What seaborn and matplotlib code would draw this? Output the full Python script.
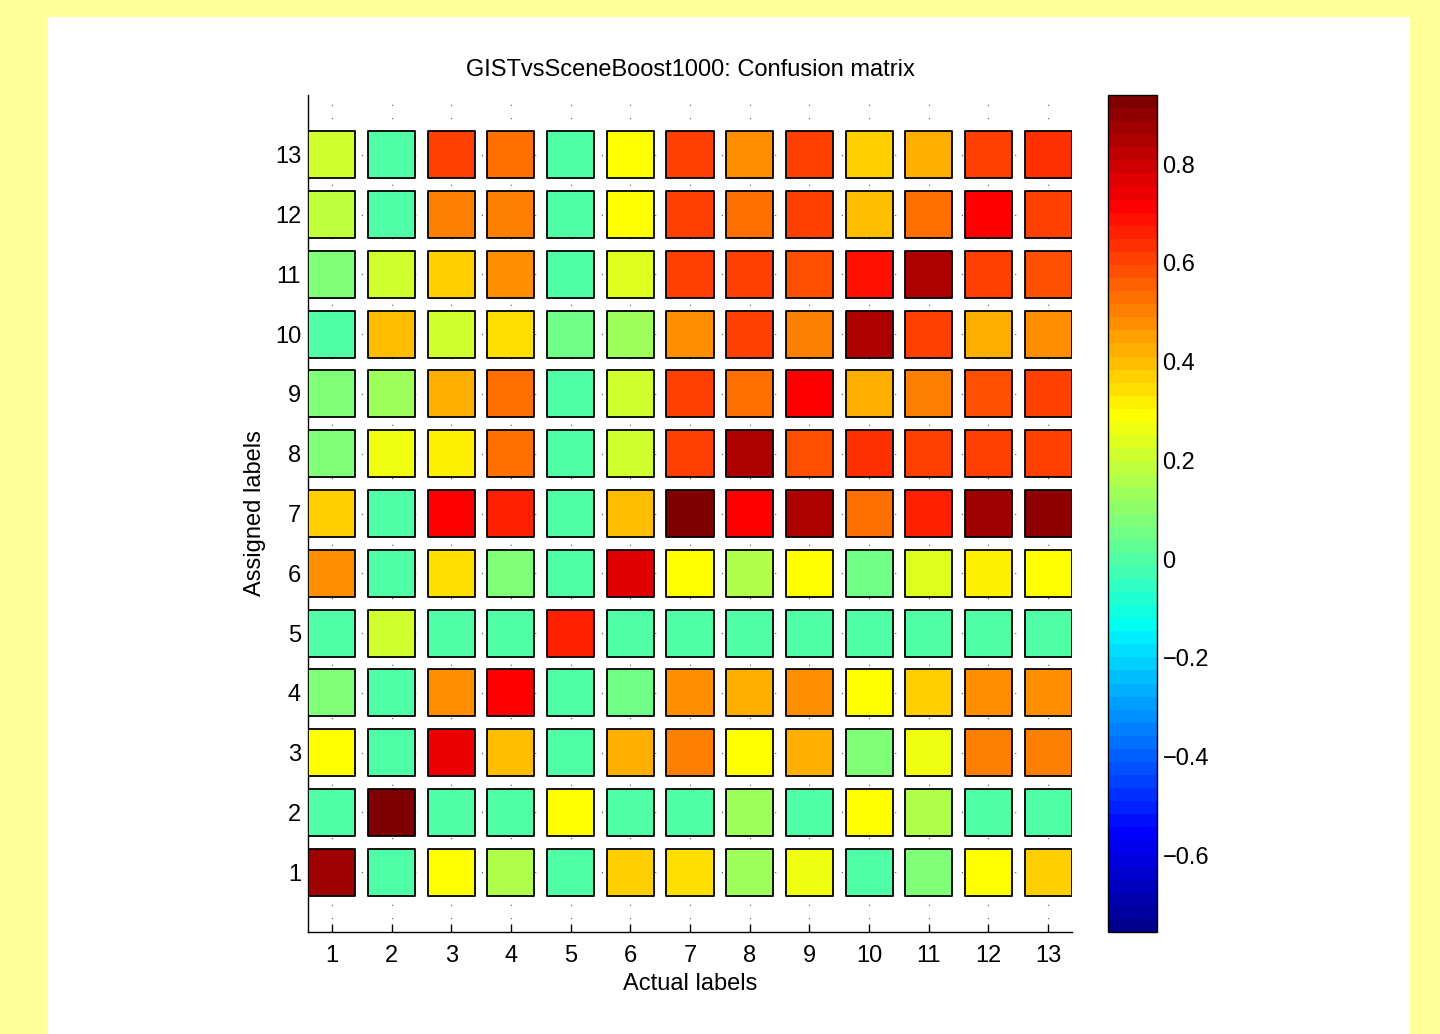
import numpy as np
import pandas as pd
import seaborn as sns
import matplotlib
matplotlib.use("Agg")
import matplotlib.pyplot as plt
from matplotlib.colors import LinearSegmentedColormap, Normalize
from matplotlib.patches import Rectangle
from matplotlib.cm import ScalarMappable

# ---- data (rows = assigned label, columns = actual label 1..13) ----
actual_labels = list(range(1, 14))
assigned_1 = [0.87, 0.005, 0.28, 0.15, 0.005, 0.38, 0.34, 0.13, 0.26, 0.005, 0.07, 0.28, 0.36]
assigned_2 = [0.005, 0.94, 0.005, 0.005, 0.30, 0.005, 0.005, 0.13, 0.005, 0.30, 0.15, 0.005, 0.005]
assigned_3 = [0.30, 0.005, 0.75, 0.41, 0.005, 0.42, 0.50, 0.28, 0.42, 0.09, 0.26, 0.49, 0.50]
assigned_4 = [0.07, 0.005, 0.47, 0.72, 0.005, 0.04, 0.47, 0.42, 0.47, 0.30, 0.38, 0.47, 0.47]
assigned_5 = [0.005, 0.20, 0.005, 0.005, 0.65, 0.005, 0.005, 0.005, 0.005, 0.005, 0.005, 0.005, 0.005]
assigned_6 = [0.465, 0.005, 0.34, 0.07, 0.005, 0.78, 0.30, 0.15, 0.28, 0.04, 0.23, 0.31, 0.30]
assigned_7 = [0.38, 0.005, 0.72, 0.67, 0.005, 0.41, 0.94, 0.72, 0.835, 0.52, 0.65, 0.88, 0.89]
assigned_8 = [0.07, 0.26, 0.33, 0.52, 0.005, 0.20, 0.61, 0.855, 0.57, 0.64, 0.60, 0.60, 0.61]
assigned_9 = [0.09, 0.13, 0.43, 0.54, 0.005, 0.20, 0.61, 0.52, 0.72, 0.43, 0.49, 0.57, 0.60]
assigned_10 = [0.0, 0.41, 0.20, 0.355, 0.04, 0.13, 0.47, 0.62, 0.50, 0.855, 0.61, 0.43, 0.47]
assigned_11 = [0.07, 0.20, 0.37, 0.47, 0.005, 0.23, 0.60, 0.60, 0.57, 0.69, 0.835, 0.60, 0.57]
assigned_12 = [0.18, 0.005, 0.50, 0.50, 0.005, 0.28, 0.61, 0.54, 0.60, 0.41, 0.54, 0.72, 0.61]
assigned_13 = [0.21, 0.005, 0.60, 0.52, 0.005, 0.30, 0.61, 0.465, 0.60, 0.37, 0.43, 0.60, 0.64]
assigned_rows = [assigned_1, assigned_2, assigned_3, assigned_4, assigned_5, assigned_6,
                 assigned_7, assigned_8, assigned_9, assigned_10, assigned_11,
                 assigned_12, assigned_13]
color_min, color_max = -0.755, 0.94
colorbar_ticks = [-0.6, -0.4, -0.2, 0, 0.2, 0.4, 0.6, 0.8]
colorbar_ticklabels = ["\u22120.6", "\u22120.4", "\u22120.2", "0", "0.2", "0.4", "0.6", "0.8"]

records = []
for a_idx, row in enumerate(assigned_rows, start=1):
    for act, val in zip(actual_labels, row):
        records.append({"actual": act, "assigned": a_idx, "value": val})
df = pd.DataFrame(records)

# ---- MATLAB jet(64) colormap ----
jet_data = {
    "red":   [(0, 0, 0), (0.365, 0, 0), (0.619, 1, 1), (0.873, 1, 1), (1, 0.5, 0.5)],
    "green": [(0, 0, 0), (0.111, 0, 0), (0.365, 1, 1), (0.619, 1, 1), (0.873, 0, 0), (1, 0, 0)],
    "blue":  [(0, 0.5625, 0.5625), (0.111, 1, 1), (0.349, 1, 1), (0.619, 0, 0), (1, 0, 0)],
}
cmap = LinearSegmentedColormap("mjet", jet_data, N=64)
norm = Normalize(vmin=color_min, vmax=color_max)

sns.set_theme(style="white")
plt.rcParams["font.family"] = ["Liberation Sans", "DejaVu Sans"]

FS = 17

fig = plt.figure(figsize=(14.4, 10.34), dpi=100, facecolor="#FFFF99")
fig.add_artist(Rectangle((48 / 1440, 0), (1410 - 48) / 1440, 1 - 17 / 1034,
                         transform=fig.transFigure, facecolor="white",
                         edgecolor="none", zorder=-10))

ax = fig.add_axes([308 / 1440, 1 - 932 / 1034, (1072 - 308) / 1440, (932 - 95) / 1034])
ax.set_facecolor("white")

sns.scatterplot(data=df, x="actual", y="assigned", hue="value", palette=cmap,
                hue_norm=norm, marker="s", s=1150, edgecolor="black",
                linewidth=1.3, legend=False, ax=ax, zorder=3)

ax.set_xlim(0.6, 13.4)
ax.set_ylim(0, 14)
ax.set_xticks(actual_labels)
ax.set_yticks(actual_labels)
ax.set_xticklabels([str(v) for v in actual_labels])
ax.set_yticklabels([str(v) for v in actual_labels])
ax.tick_params(direction="in", length=6, width=1, color="black",
               labelsize=FS, labelcolor="black", bottom=True, left=True)
ax.tick_params(axis="x", pad=9.5)
ax.tick_params(axis="y", pad=5)
for side in ["top", "right"]:
    ax.spines[side].set_visible(False)
for side in ["left", "bottom"]:
    ax.spines[side].set_color("black")
    ax.spines[side].set_linewidth(1.0)

ax.set_axisbelow(True)
ax.grid(True, color="#555555", linestyle=(0, (1, 11)), linewidth=0.8)

ax.set_xlabel("Actual labels", fontsize=FS, color="black", labelpad=4)
ax.set_ylabel("Assigned labels", fontsize=FS, color="black", labelpad=6)
ax.set_title("GISTvsSceneBoost1000: Confusion matrix", fontsize=FS,
             color="black", pad=14)

cax = fig.add_axes([1108 / 1440, 1 - 932 / 1034, (1157 - 1108) / 1440, (932 - 95) / 1034])
sm = ScalarMappable(norm=norm, cmap=cmap)
cb = fig.colorbar(sm, cax=cax, ticks=colorbar_ticks)
cb.ax.set_yticklabels(colorbar_ticklabels)
cb.ax.tick_params(direction="in", length=6, width=1, color="black",
                  labelsize=FS, labelcolor="black", left=True, right=True, pad=4)
cb.outline.set_edgecolor("black")
cb.outline.set_linewidth(1.0)

fig.savefig("out.png", dpi=100, facecolor=fig.get_facecolor())
